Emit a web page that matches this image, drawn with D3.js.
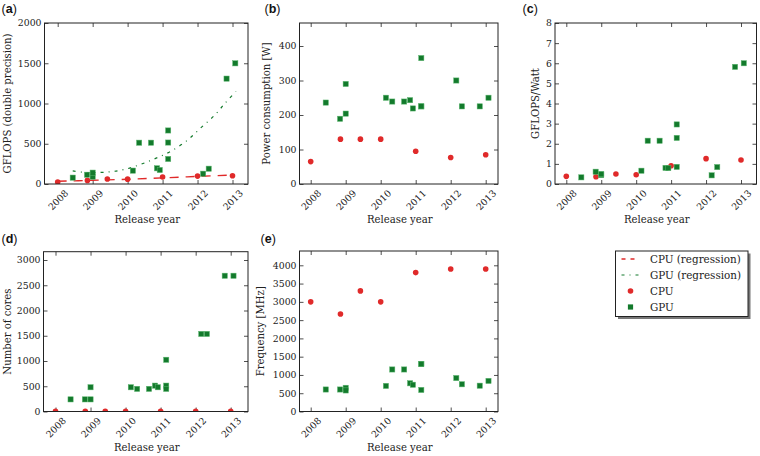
<!DOCTYPE html>
<html><head><meta charset="utf-8">
<script src="https://cdn.jsdelivr.net/npm/d3@7"></script>
<style>
body{margin:0;background:#fff;}
svg{display:block;font-family:"DejaVu Serif",serif;}
</style></head><body><svg id="c" width="760" height="456"></svg>
<script>
// ---------------- data ----------------
const xYears = [2008, 2009, 2010, 2011, 2012, 2013];

const cpuYear = [2008.0, 2008.85, 2009.42, 2010.0, 2011.0, 2012.0, 2013.0];
const cpuGflops = [24, 45, 63, 60, 87, 98, 102];
const cpuPower = [65, 130, 130, 130, 95, 77, 85];
const cpuGflopsPerWatt = [0.38, 0.36, 0.50, 0.46, 0.91, 1.26, 1.19];
const cpuCores = [2, 4, 4, 6, 4, 4, 4];
const cpuFreq = [3000, 2667, 3300, 3000, 3800, 3900, 3900];

const gpuYear = [2008.43, 2008.84, 2009.0, 2009.0, 2010.15, 2010.33, 2010.67, 2010.84, 2010.92, 2011.16, 2011.16, 2011.16, 2012.16, 2012.32, 2012.83, 2013.08];
const gpuGflops = [79, 115, 90, 141, 166, 513, 513, 195, 174, 311, 665, 515, 128, 190, 1309, 1499];
const gpuPower = [236, 189, 204, 290, 250, 239, 239, 243, 219, 365, 225, 225, 300, 225, 225, 250];
const gpuGflopsPerWatt = [0.33, 0.61, 0.44, 0.50, 0.66, 2.15, 2.15, 0.80, 0.79, 0.85, 2.96, 2.29, 0.43, 0.84, 5.82, 6.00];
const gpuCores = [240, 240, 240, 480, 480, 448, 448, 512, 480, 1024, 512, 448, 1536, 1536, 2688, 2688];
const gpuFreq = [602, 602, 648, 576, 700, 1150, 1150, 772, 732, 590, 1300, 1300, 915, 745, 706, 837];

const cpuRegYear = [2008, 2009, 2010, 2011, 2012, 2013];
const cpuRegGflops = [34, 46, 59, 76, 94, 111];
const gpuRegYear = [2008.43, 2008.75, 2009.1, 2009.5, 2009.9, 2010.35, 2010.8, 2011.25, 2011.7, 2012.1, 2012.5, 2012.8, 2013.1];
const gpuRegGflops = [163, 145, 142, 152, 180, 240, 318, 410, 540, 700, 860, 1010, 1150];

const legendLabels = ["CPU (regression)", "GPU (regression)", "CPU", "GPU"];

// ---------------- styling ----------------
const RED = "#e02a2a", GREEN = "#137a2c";
const TICKFONT = 9.3, LABFONT = 10.1, LEGFONT = 10.4;

const svg = d3.select("#c");

const panels = [
  {letter: "a", fx: [44.5, 248], fy: [23, 184], xr: [57.7, 232.5], yd: [0, 2000], yr: [184, 23], yt: [0, 500, 1000, 1500, 2000],
   ylab: "GFLOPS (double precision)", ylabX: 10.5, cpu: cpuGflops, gpu: gpuGflops, reg: true, lx: 1.5, ly: 13},
  {letter: "b", fx: [299.5, 498], fy: [23, 184], xr: [310.7, 485.7], yd: [0, 400], yr: [184, 46], yt: [0, 100, 200, 300, 400],
   ylab: "Power consumption [W]", ylabX: 269.5, cpu: cpuPower, gpu: gpuPower, lx: 264.5, ly: 13},
  {letter: "c", fx: [555, 756.5], fy: [23, 184], xr: [566.3, 741], yd: [0, 8], yr: [184, 23], yt: [0, 1, 2, 3, 4, 5, 6, 7, 8],
   ylab: "GFLOPS/Watt", ylabX: 539, cpu: cpuGflopsPerWatt, gpu: gpuGflopsPerWatt, lx: 522.5, ly: 13},
  {letter: "d", fx: [43.5, 248], fy: [251.7, 411.5], xr: [55.5, 230.7], yd: [0, 3000], yr: [411.5, 260], yt: [0, 500, 1000, 1500, 2000, 2500, 3000],
   ylab: "Number of cores", ylabX: 10.5, cpu: cpuCores, gpu: gpuCores, lx: 1.5, ly: 243},
  {letter: "e", fx: [299.5, 498], fy: [251, 411.5], xr: [310.7, 485.7], yd: [0, 4000], yr: [411.5, 265.3], yt: [0, 500, 1000, 1500, 2000, 2500, 3000, 3500, 4000],
   ylab: "Frequency [MHz]", ylabX: 264, cpu: cpuFreq, gpu: gpuFreq, lx: 260.5, ly: 243}
];

const defs = svg.append("defs");

panels.forEach((p, i) => {
  const x = d3.scaleLinear().domain([2008, 2013]).range(p.xr);
  const y = d3.scaleLinear().domain(p.yd).range(p.yr);
  const [x0, x1] = p.fx, [yTop, yBot] = p.fy;
  const g = svg.append("g");

  defs.append("clipPath").attr("id", "clip" + i)
    .append("rect").attr("x", x0).attr("y", yTop).attr("width", x1 - x0).attr("height", yBot - yTop);

  // axes (inward ticks on all 4 sides)
  const ax = (gen, tx, ty) => {
    const a = g.append("g").attr("transform", `translate(${tx},${ty})`).call(gen);
    a.select(".domain").remove();
    a.selectAll("line").attr("stroke", "#222").attr("stroke-width", 0.8);
    a.selectAll("text").attr("font-family", "DejaVu Serif").attr("font-size", TICKFONT).attr("fill", "#222");
    return a;
  };
  const bottom = ax(d3.axisBottom(x).tickValues(xYears).tickSize(-4).tickFormat(d3.format("d")), 0, yBot);
  bottom.selectAll("text")
    .attr("y", 16).attr("dy", "0.35em").attr("text-anchor", "middle")
    .attr("transform", "rotate(-45 0 16)");
  ax(d3.axisTop(x).tickValues(xYears).tickSize(-4).tickFormat(""), 0, yTop);
  ax(d3.axisLeft(y).tickValues(p.yt).tickSize(-4).tickPadding(3).tickFormat(d3.format("d")), x0, 0);
  ax(d3.axisRight(y).tickValues(p.yt).tickSize(-4).tickFormat(""), x1, 0);

  // plotted data
  const pg = g.append("g").attr("clip-path", `url(#clip${i})`);
  if (p.reg) {
    const line = d3.line().x(d => x(d[0])).y(d => y(d[1])).curve(d3.curveCatmullRom);
    pg.append("path").datum(d3.zip(cpuRegYear, cpuRegGflops)).attr("d", line)
      .attr("fill", "none").attr("stroke", RED).attr("stroke-width", 1.4).attr("stroke-dasharray", "9,7");
    pg.append("path").datum(d3.zip(gpuRegYear, gpuRegGflops)).attr("d", line)
      .attr("fill", "none").attr("stroke", GREEN).attr("stroke-width", 1.2).attr("stroke-dasharray", "3,5,1,5");
  }
  pg.selectAll("circle").data(d3.zip(cpuYear, p.cpu)).join("circle")
    .attr("cx", d => x(d[0])).attr("cy", d => y(d[1])).attr("r", 2.8).attr("fill", RED);
  const s = 5.2;
  pg.selectAll("rect.gpu").data(d3.zip(gpuYear, p.gpu)).join("rect").attr("class", "gpu")
    .attr("x", d => x(d[0]) - s / 2).attr("y", d => y(d[1]) - s / 2).attr("width", s).attr("height", s)
    .attr("fill", GREEN).attr("stroke", "#5bb56e").attr("stroke-width", 0.5);

  // frame
  g.append("rect").attr("x", x0).attr("y", yTop).attr("width", x1 - x0).attr("height", yBot - yTop)
    .attr("fill", "none").attr("stroke", "#222").attr("stroke-width", 1);

  // axis labels
  g.append("text").attr("x", (x0 + x1) / 2 + 1).attr("y", yBot + 39).attr("text-anchor", "middle")
    .attr("font-size", LABFONT).attr("fill", "#222").text("Release year");
  g.append("text").attr("transform", `translate(${p.ylabX},${(yTop + yBot) / 2}) rotate(-90)`)
    .attr("text-anchor", "middle").attr("font-size", LABFONT).attr("fill", "#222").text(p.ylab);

  // panel letter
  const t = g.append("text").attr("x", p.lx).attr("y", p.ly)
    .attr("font-family", "Liberation Sans, Arial, sans-serif").attr("font-size", 12.5).attr("fill", "#111");
  t.append("tspan").text("(");
  t.append("tspan").attr("font-weight", "bold").text(p.letter);
  t.append("tspan").text(")");
});

// ---------------- legend ----------------
const lg = svg.append("g");
const L = {x: 615.5, y: 251, w: 132.5, h: 65.5};
lg.append("rect").attr("x", L.x + 2.5).attr("y", L.y + 2.5).attr("width", L.w).attr("height", L.h).attr("fill", "#777");
lg.append("rect").attr("x", L.x).attr("y", L.y).attr("width", L.w).attr("height", L.h)
  .attr("fill", "#fff").attr("stroke", "#222").attr("stroke-width", 1);
const rowY = d3.scalePoint().domain(legendLabels).range([L.y + 8, L.y + 56]);
legendLabels.forEach((lab, k) => {
  const yy = rowY(lab);
  if (k === 0) lg.append("line").attr("x1", L.x + 6).attr("x2", L.x + 23).attr("y1", yy).attr("y2", yy)
    .attr("stroke", RED).attr("stroke-width", 1.4).attr("stroke-dasharray", "4,5");
  if (k === 1) lg.append("line").attr("x1", L.x + 6).attr("x2", L.x + 23).attr("y1", yy).attr("y2", yy)
    .attr("stroke", GREEN).attr("stroke-width", 1.2).attr("stroke-dasharray", "3,5,1,5");
  if (k === 2) lg.append("circle").attr("cx", L.x + 15).attr("cy", yy).attr("r", 2.8).attr("fill", RED);
  if (k === 3) lg.append("rect").attr("x", L.x + 15 - 2.6).attr("y", yy - 2.6).attr("width", 5.2).attr("height", 5.2).attr("fill", GREEN);
  lg.append("text").attr("x", L.x + 34.5).attr("y", yy).attr("dy", "0.35em")
    .attr("font-size", LEGFONT).attr("fill", "#222").text(lab);
});
</script></body></html>
